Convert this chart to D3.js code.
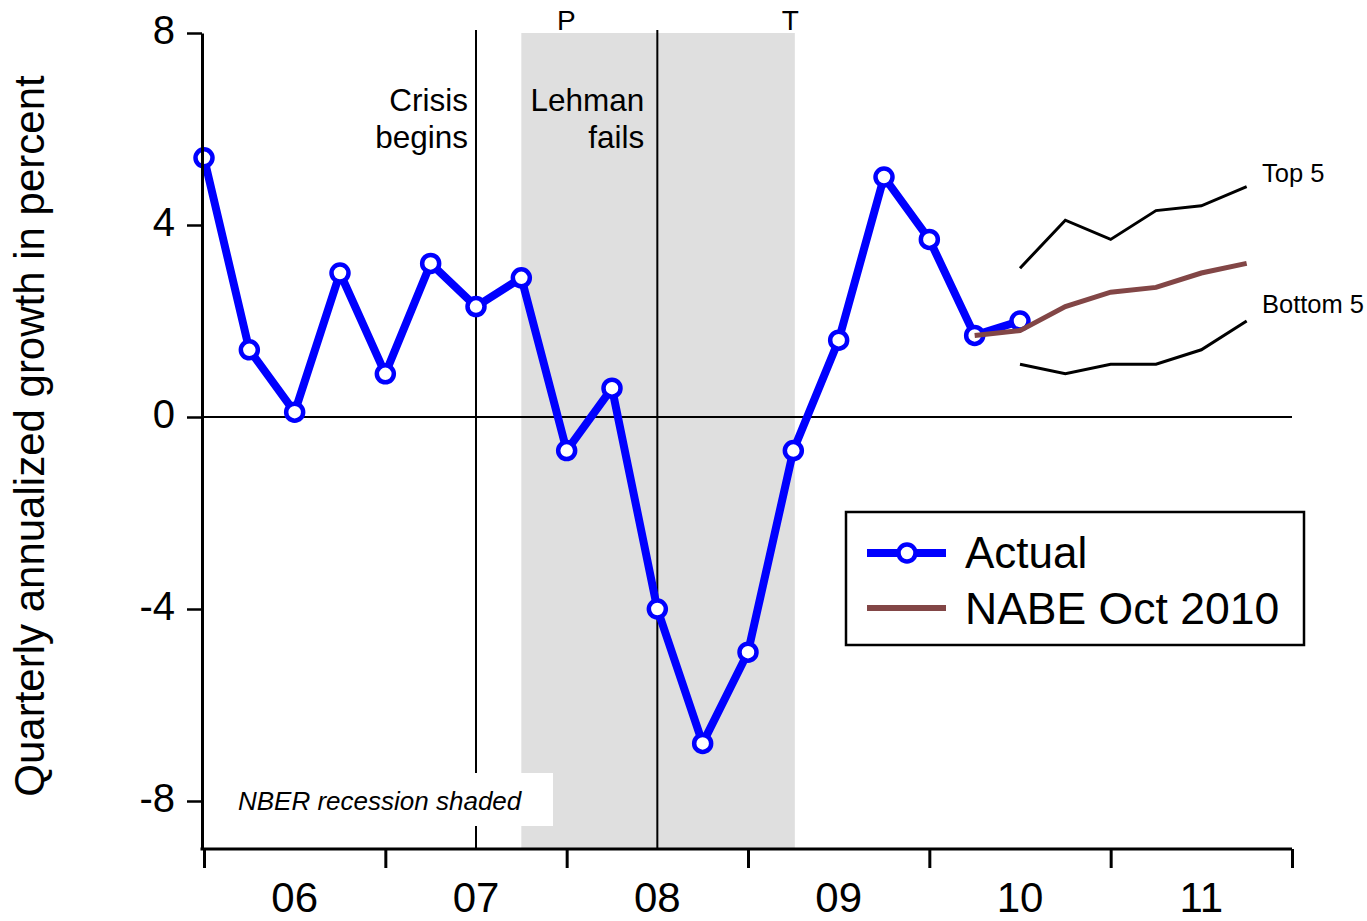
<!DOCTYPE html>
<html>
<head>
<meta charset="utf-8">
<script src="https://cdn.jsdelivr.net/npm/d3@7/dist/d3.min.js"></script>
<style>
  html, body { margin: 0; padding: 0; background: #fff; }
  svg { display: block; font-family: "Liberation Sans", Arial, Helvetica, sans-serif; }
</style>
</head>
<body>
<svg id="chart" width="1367" height="921"></svg>
<script>
// ---------------- DATA ----------------
const actualStart = "2006Q1";
const actualGDP = [5.4, 1.4, 0.1, 3.0, 0.9, 3.2, 2.3, 2.9, -0.7, 0.6, -4.0, -6.8, -4.9, -0.7, 1.6, 5.0, 3.7, 1.7, 2.0];

const nabeStart = "2010Q2";
const nabeForecast = [1.7, 1.8, 2.3, 2.6, 2.7, 3.0, 3.2];

const rangeStart = "2010Q3";
const top5 = [3.1, 4.1, 3.7, 4.3, 4.4, 4.8];
const bottom5 = [1.1, 0.9, 1.1, 1.1, 1.4, 2.0];

const yearLabels = ["06", "07", "08", "09", "10", "11"];
const yTicks = [8, 4, 0, -4, -8];

const recessionPeak = "2007Q4";
const recessionTrough = "2009Q2";
const crisisBegins = "2007Q3";
const lehmanFails = "2008Q3";

// ---------------- HELPERS ----------------
function qIndex(s) {
  const yr = +s.slice(0, 4), q = +s.slice(5);
  return (yr - 2006) * 4 + (q - 1);
}
function series(start, vals) {
  const i0 = qIndex(start);
  return vals.map((v, i) => ({ i: i0 + i, v }));
}

const svg = d3.select("#chart");
const x = d3.scaleLinear().domain([0, 24]).range([204, 1292]);
const y = d3.scaleLinear().domain([-9, 8]).range([849, 33]);

const line = d3.line().x(d => x(d.i)).y(d => y(d.v));

// Recession shading
svg.append("rect")
  .attr("x", x(qIndex(recessionPeak)))
  .attr("y", y(8))
  .attr("width", x(qIndex(recessionTrough)) - x(qIndex(recessionPeak)) + 1.5)
  .attr("height", y(-9) - y(8))
  .attr("fill", "#dfdfdf");

// Event lines
[crisisBegins, lehmanFails].forEach(q => {
  svg.append("line")
    .attr("x1", x(qIndex(q))).attr("x2", x(qIndex(q)))
    .attr("y1", y(8) - 3).attr("y2", y(-9))
    .attr("stroke", "#000").attr("stroke-width", 2);
});

// NBER label box
svg.append("rect")
  .attr("x", 212).attr("y", 773).attr("width", 553 - 212).attr("height", 53)
  .attr("fill", "#fff");
svg.append("text")
  .attr("x", 238).attr("y", 810)
  .attr("font-size", 26).attr("font-style", "italic")
  .text("NBER recession shaded");

// P / T labels
svg.append("text").attr("x", x(qIndex(recessionPeak)) + 45).attr("y", 30)
  .attr("text-anchor", "middle").attr("font-size", 28).text("P");
svg.append("text").attr("x", x(qIndex(recessionTrough)) - 3).attr("y", 30)
  .attr("text-anchor", "middle").attr("font-size", 28).text("T");

// Annotations
const crisisX = x(qIndex(crisisBegins)) - 8;
svg.append("text").attr("x", crisisX).attr("y", 111).attr("text-anchor", "end").attr("font-size", 31.5).text("Crisis");
svg.append("text").attr("x", crisisX).attr("y", 148).attr("text-anchor", "end").attr("font-size", 31.5).text("begins");
const lehX = x(qIndex(lehmanFails)) - 13;
svg.append("text").attr("x", lehX).attr("y", 111).attr("text-anchor", "end").attr("font-size", 31.5).text("Lehman");
svg.append("text").attr("x", lehX).attr("y", 148).attr("text-anchor", "end").attr("font-size", 31.5).text("fails");

// Zero line
svg.append("line")
  .attr("x1", x(0)).attr("x2", x(24))
  .attr("y1", y(0)).attr("y2", y(0))
  .attr("stroke", "#000").attr("stroke-width", 2);

// Top 5 / Bottom 5
const topData = series(rangeStart, top5);
const botData = series(rangeStart, bottom5);
[topData, botData].forEach(d => {
  svg.append("path").datum(d).attr("d", line)
    .attr("fill", "none").attr("stroke", "#000").attr("stroke-width", 3);
});
svg.append("text").attr("x", 1262).attr("y", 182).attr("font-size", 25.5).text("Top 5");
svg.append("text").attr("x", 1262).attr("y", 313).attr("font-size", 25.5).text("Bottom 5");

// Actual
const actData = series(actualStart, actualGDP);
svg.append("path").datum(actData).attr("d", line)
  .attr("fill", "none").attr("stroke", "#0000ff").attr("stroke-width", 8)
  .attr("stroke-linejoin", "round");
svg.selectAll("circle.act").data(actData).enter().append("circle")
  .attr("class", "act")
  .attr("cx", d => x(d.i)).attr("cy", d => y(d.v)).attr("r", 8.5)
  .attr("fill", "#fff").attr("stroke", "#0000ff").attr("stroke-width", 4.5);

// NABE
const nabeData = series(nabeStart, nabeForecast);
svg.append("path").datum(nabeData).attr("d", line)
  .attr("fill", "none").attr("stroke", "#824646").attr("stroke-width", 5);

// Axes
const yAxis = d3.axisLeft(y).tickValues(yTicks).tickSize(15).tickSizeOuter(0).tickPadding(12)
  .tickFormat(d => d);
const gy = svg.append("g").attr("transform", `translate(${x(0) - 2},0)`).call(yAxis);
gy.select(".domain").attr("stroke-width", 3);
gy.selectAll(".tick line").attr("stroke-width", 2.5);
gy.selectAll(".tick text").attr("font-size", 40).attr("dy", "0.25em")
  .attr("font-family", '"Liberation Sans", Arial, sans-serif').attr("fill", "#000");

const xAxis = d3.axisBottom(x).tickValues(d3.range(0, 25, 4)).tickSize(19).tickSizeOuter(0).tickFormat("");
const gx = svg.append("g").attr("transform", `translate(0,${y(-9)})`).call(xAxis);
gx.select(".domain").attr("stroke-width", 3).attr("d", `M${x(0) - 3.5},0H${x(24)}`);
gx.selectAll(".tick line").attr("stroke-width", 3);

svg.selectAll("text.year").data(yearLabels).enter().append("text")
  .attr("class", "year")
  .attr("x", (d, i) => x(i * 4 + 2))
  .attr("y", 912)
  .attr("text-anchor", "middle")
  .attr("font-size", 42)
  .text(d => d);

// Y axis title
svg.append("text")
  .attr("transform", "translate(44,436) rotate(-90)")
  .attr("text-anchor", "middle")
  .attr("font-size", 42)
  .text("Quarterly annualized growth in percent");

// Legend
const lg = svg.append("g");
lg.append("rect").attr("x", 846).attr("y", 512).attr("width", 458).attr("height", 133)
  .attr("fill", "#fff").attr("stroke", "#000").attr("stroke-width", 2.5);
lg.append("line").attr("x1", 867).attr("x2", 946).attr("y1", 553).attr("y2", 553)
  .attr("stroke", "#0000ff").attr("stroke-width", 8);
lg.append("circle").attr("cx", 907).attr("cy", 553).attr("r", 8.5)
  .attr("fill", "#fff").attr("stroke", "#0000ff").attr("stroke-width", 4.5);
lg.append("text").attr("x", 965).attr("y", 568).attr("font-size", 44).text("Actual");
lg.append("line").attr("x1", 867).attr("x2", 946).attr("y1", 608).attr("y2", 608)
  .attr("stroke", "#824646").attr("stroke-width", 6);
lg.append("text").attr("x", 965).attr("y", 624).attr("font-size", 44.5).text("NABE Oct 2010");
</script>
</body>
</html>
